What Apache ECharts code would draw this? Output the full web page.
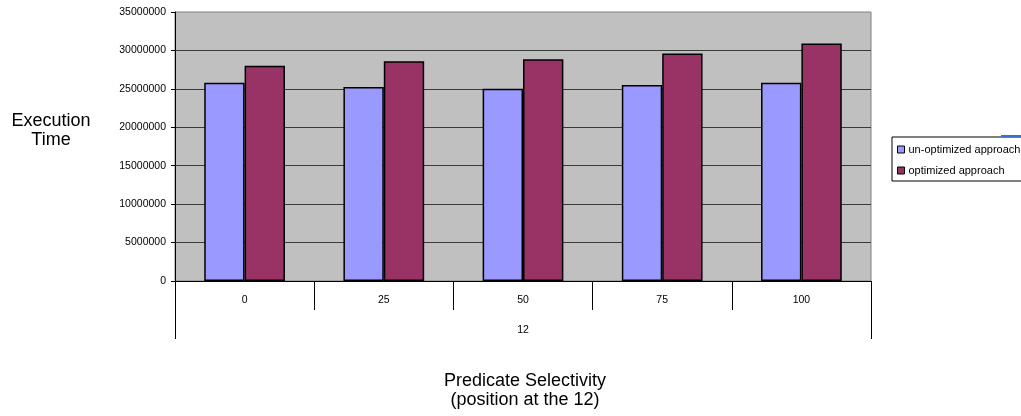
<!DOCTYPE html>
<html>
<head>
<meta charset="utf-8">
<script src="https://cdn.jsdelivr.net/npm/echarts@6/dist/echarts.min.js"></script>
<style>
  html, body { margin: 0; padding: 0; background: #fff; }
  #chart { width: 1021px; height: 416px; }
</style>
</head>
<body>
<div id="chart"></div>
<script>
// Predicate selectivity positions (grouped under column 12)
const categories = ['0', '25', '50', '75', '100'];
const groupLabel = ['12'];
// Execution times per approach
const unoptimized = [25800000, 25250000, 25000000, 25500000, 25800000];
const optimized = [28000000, 28600000, 28850000, 29600000, 30900000];
const seriesNames = ['un-optimized approach', 'optimized approach'];

const FONT = "'Liberation Sans', Arial, sans-serif";

const chart = echarts.init(document.getElementById('chart'), null, { renderer: 'canvas' });

chart.setOption({
  animation: false,
  backgroundColor: '#ffffff',
  textStyle: { fontFamily: FONT, color: '#000' },
  title: [
    {
      text: 'Execution\nTime',
      left: 46, top: 107,
      textAlign: 'center',
      textStyle: { fontFamily: FONT, fontSize: 18, fontWeight: 'normal', color: '#000', lineHeight: 19, align: 'center' }
    },
    {
      text: 'Predicate Selectivity\n(position at the 12)',
      left: 520, top: 367,
      textAlign: 'center',
      textStyle: { fontFamily: FONT, fontSize: 18, fontWeight: 'normal', color: '#000', lineHeight: 19, align: 'center' }
    }
  ],
  legend: {
    orient: 'vertical',
    left: 892, top: 137,
    padding: [7, 40, 5, 5],
    itemGap: 10,
    itemWidth: 7, itemHeight: 7,
    borderColor: '#000', borderWidth: 1,
    backgroundColor: '#fff',
    icon: 'rect',
    itemStyle: { borderColor: '#000', borderWidth: 1 },
    textStyle: { fontFamily: FONT, fontSize: 11, color: '#000', padding: [0, 0, 0, -1] },
    data: seriesNames
  },
  graphic: [
    { type: 'rect', shape: { x: 1001, y: 135, width: 20, height: 2 }, style: { fill: '#3a6fd0' }, z: 100 }
  ],
  grid: {
    left: 175, top: 12, right: 150, bottom: 135,
    show: true,
    backgroundColor: '#C0C0C0',
    borderColor: '#808080',
    borderWidth: 1
  },
  xAxis: [
    {
      type: 'category',
      position: 'bottom',
      data: categories,
      axisLine: { show: true, lineStyle: { color: '#000', width: 1 } },
      axisTick: { show: true, length: 29, alignWithLabel: false, lineStyle: { color: '#000', width: 1 } },
      axisLabel: { fontFamily: FONT, fontSize: 10.5, color: '#000', margin: 14 },
      splitLine: { show: false }
    },
    {
      type: 'category',
      position: 'bottom',
      data: groupLabel,
      axisLine: { show: false },
      axisTick: { show: true, length: 58, lineStyle: { color: '#000', width: 1 } },
      axisLabel: { fontFamily: FONT, fontSize: 10.5, color: '#000', margin: 44 },
      splitLine: { show: false }
    }
  ],
  yAxis: {
    type: 'value',
    min: 0, max: 35000000, interval: 5000000,
    axisLine: { show: true, lineStyle: { color: '#000', width: 1 } },
    axisTick: { show: true, length: 4, lineStyle: { color: '#000' } },
    axisLabel: { fontFamily: FONT, fontSize: 10.5, color: '#000', margin: 9, formatter: v => String(v) },
    splitLine: { show: true, showMaxLine: false, lineStyle: { color: '#3a3a3a', width: 1 } }
  },
  series: [
    {
      name: seriesNames[0],
      type: 'bar',
      xAxisIndex: 0,
      data: unoptimized,
      barGap: '0%',
      barCategoryGap: '42%',
      itemStyle: { color: '#9999FF', borderColor: '#000', borderWidth: 1.5 }
    },
    {
      name: seriesNames[1],
      type: 'bar',
      xAxisIndex: 0,
      data: optimized,
      barGap: '0%',
      barCategoryGap: '42%',
      itemStyle: { color: '#993366', borderColor: '#000', borderWidth: 1.5 }
    }
  ]
});
</script>
</body>
</html>
